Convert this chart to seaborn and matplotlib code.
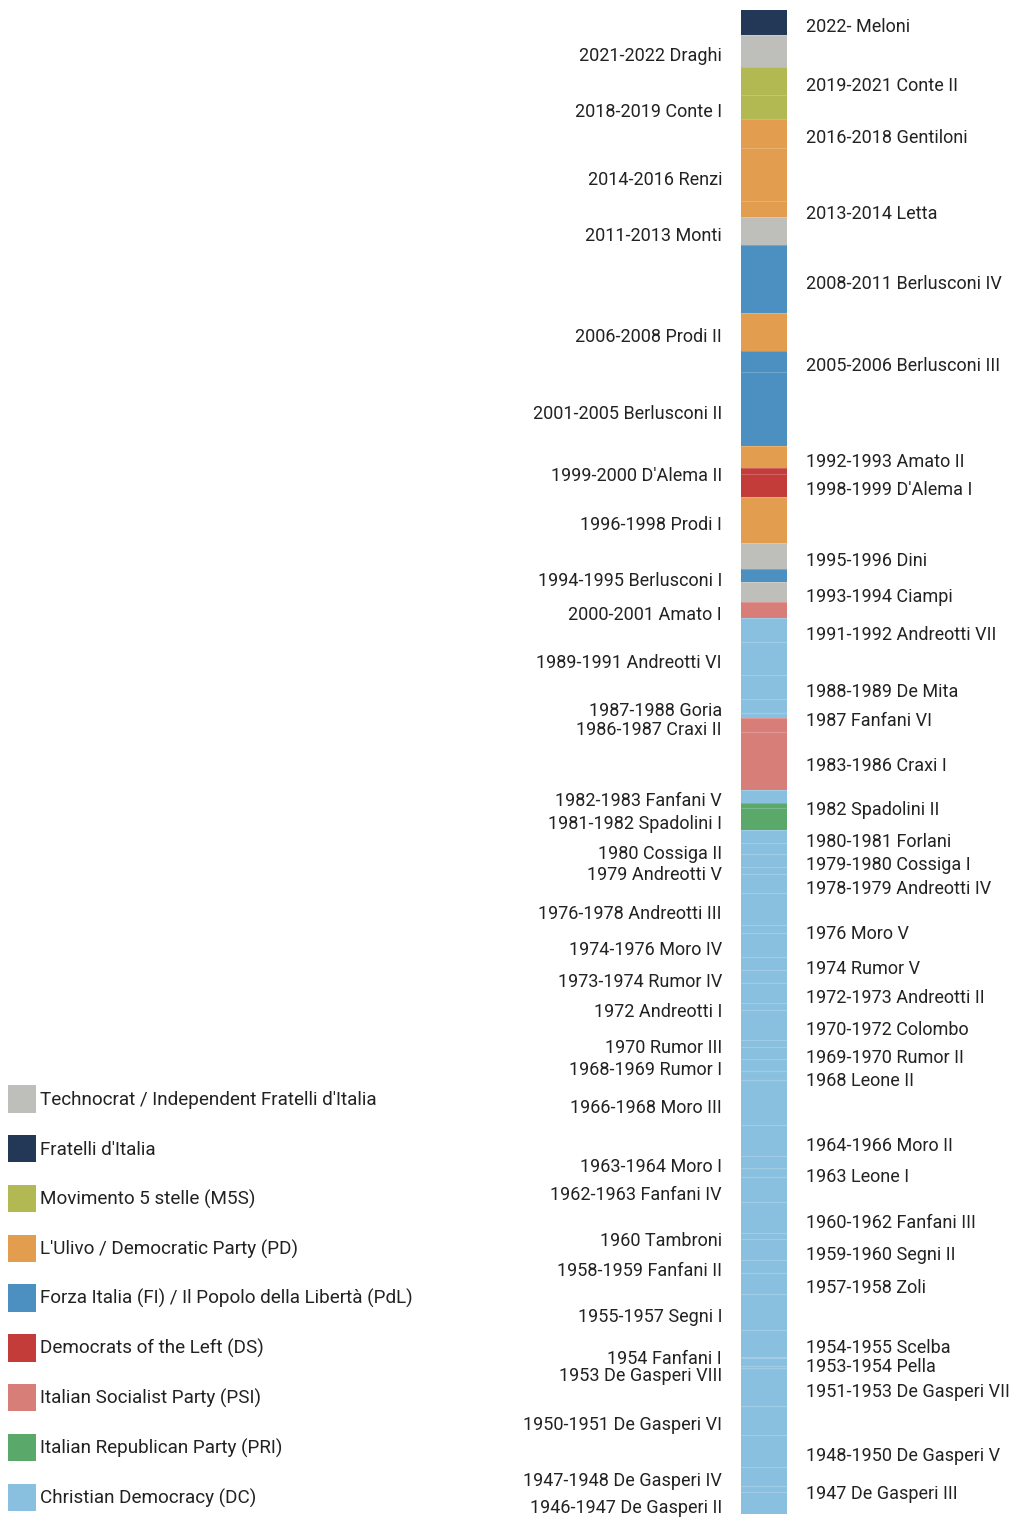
import matplotlib
matplotlib.use("Agg")
import matplotlib.pyplot as plt
from matplotlib.patches import Patch
import numpy as np
import pandas as pd
import seaborn as sns

# governments from the bottom of the bar (oldest) to the top (newest)
governments = [
    "1946-1947 De Gasperi II", "1947 De Gasperi III", "1947-1948 De Gasperi IV",
    "1948-1950 De Gasperi V", "1950-1951 De Gasperi VI", "1951-1953 De Gasperi VII",
    "1953 De Gasperi VIII", "1953-1954 Pella", "1954 Fanfani I", "1954-1955 Scelba",
    "1955-1957 Segni I", "1957-1958 Zoli", "1958-1959 Fanfani II", "1959-1960 Segni II",
    "1960 Tambroni", "1960-1962 Fanfani III", "1962-1963 Fanfani IV", "1963 Leone I",
    "1963-1964 Moro I", "1964-1966 Moro II", "1966-1968 Moro III", "1968 Leone II",
    "1968-1969 Rumor I", "1969-1970 Rumor II", "1970 Rumor III", "1970-1972 Colombo",
    "1972 Andreotti I", "1972-1973 Andreotti II", "1973-1974 Rumor IV", "1974 Rumor V",
    "1974-1976 Moro IV", "1976 Moro V", "1976-1978 Andreotti III", "1978-1979 Andreotti IV",
    "1979 Andreotti V", "1979-1980 Cossiga I", "1980 Cossiga II", "1980-1981 Forlani",
    "1981-1982 Spadolini I", "1982 Spadolini II", "1982-1983 Fanfani V", "1983-1986 Craxi I",
    "1986-1987 Craxi II", "1987 Fanfani VI", "1987-1988 Goria", "1988-1989 De Mita",
    "1989-1991 Andreotti VI", "1991-1992 Andreotti VII", "2000-2001 Amato I",
    "1993-1994 Ciampi", "1994-1995 Berlusconi I", "1995-1996 Dini", "1996-1998 Prodi I",
    "1998-1999 D'Alema I", "1999-2000 D'Alema II", "1992-1993 Amato II",
    "2001-2005 Berlusconi II", "2005-2006 Berlusconi III", "2006-2008 Prodi II",
    "2008-2011 Berlusconi IV", "2011-2013 Monti", "2013-2014 Letta", "2014-2016 Renzi",
    "2016-2018 Gentiloni", "2018-2019 Conte I", "2019-2021 Conte II", "2021-2022 Draghi",
    "2022- Meloni",
]

# days in office
days = [
    410, 118, 358, 614, 545, 721, 32, 154, 23, 511,
    683, 408, 229, 404, 123, 575, 485, 166, 231, 581,
    852, 171, 236, 234, 132, 560, 130, 376, 250, 254,
    446, 168, 590, 374, 137, 244, 197, 253, 421, 100,
    246, 1093, 259, 102, 260, 465, 629, 443, 304, 377,
    252, 486, 887, 427, 125, 412, 1412, 389, 722, 1287,
    529, 300, 1024, 536, 461, 527, 616, 470,
]

parties = (
    ["DC"] * 38 + ["PRI", "PRI", "DC", "PSI", "PSI", "DC", "DC", "DC", "DC", "DC",
                   "PSI", "TEC", "FI", "TEC", "PD", "DS", "DS", "PD", "FI", "FI",
                   "PD", "FI", "TEC", "PD", "PD", "PD", "M5S", "M5S", "TEC", "FDI"]
)

party_keys = ["TEC", "FDI", "M5S", "PD", "FI", "DS", "PSI", "PRI", "DC"]
party_names = [
    "Technocrat / Independent Fratelli d'Italia",
    "Fratelli d'Italia",
    "Movimento 5 stelle (M5S)",
    "L'Ulivo / Democratic Party (PD)",
    "Forza Italia (FI) / Il Popolo della Libertà (PdL)",
    "Democrats of the Left (DS)",
    "Italian Socialist Party (PSI)",
    "Italian Republican Party (PRI)",
    "Christian Democracy (DC)",
]
party_colors = ["#bebeba", "#233856", "#b2b852", "#e29d4e", "#4b90c1",
                "#c33c39", "#d77e79", "#5aa86a", "#8ac0df"]

sns.set_theme(style="white")
plt.rcParams["font.family"] = ["Roboto", "DejaVu Sans"]

color_of = dict(zip(party_keys, party_colors))
df = pd.DataFrame({"gov": governments, "days": days, "party": parties})
df["top"] = df["days"].cumsum()
df["bottom"] = df["top"] - df["days"]
df["mid"] = (df["top"] + df["bottom"]) / 2
df["side"] = np.where(np.arange(len(df)) % 2 == 0, "left", "right")
total = df["top"].iloc[-1]

W, H = 1016, 1524
fig = plt.figure(figsize=(W / 100, H / 100), dpi=100)
fig.patch.set_facecolor("white")
bar_px = 1503.7
ax = fig.add_axes([741 / W, 10.3 / H, 46 / W, bar_px / H])

# stacked bar: draw cumulative bars from the tallest down
for _, row in df.iloc[::-1].iterrows():
    sns.barplot(x=["all"], y=[row["top"]], color=color_of[row["party"]],
                saturation=1, width=1, linewidth=0, ax=ax)
ax.hlines(df["top"].iloc[:-1], -0.5, 0.5, colors="white", linewidth=0.8, alpha=0.2)
ax.set_xlim(-0.5, 0.5)
ax.set_ylim(0, total)
ax.axis("off")

# label positions: centre of segment, nudged apart on each side
px_per_day = bar_px / total
gap = 17 / px_per_day
for side in ["left", "right"]:
    idx = df.index[df["side"] == side]
    ys = df.loc[idx, "mid"].to_numpy(dtype=float)
    for _ in range(200):
        moved = False
        for j in range(len(ys) - 1):
            d = ys[j + 1] - ys[j]
            if d < gap:
                push = (gap - d) / 2
                ys[j] -= push
                ys[j + 1] += push
                moved = True
        if not moved:
            break
    df.loc[idx, "ylab"] = ys

for _, row in df.iterrows():
    left = row["side"] == "left"
    ax.annotate(row["gov"], xy=(-0.5 if left else 0.5, row["ylab"]),
                xytext=(-19 if left else 19, -5), textcoords="offset pixels",
                ha="right" if left else "left", va="center",
                fontsize=13, color="#222222", annotation_clip=False)

handles = [Patch(facecolor=c, edgecolor="none", label=n)
           for n, c in zip(party_names, party_colors)]
fig.legend(handles=handles, loc="lower left", bbox_to_anchor=(8 / W, 12.9 / H),
           frameon=False, fontsize=13.6, handlelength=1.48, handleheight=1.85,
           handletextpad=0.2, labelspacing=1.19, borderpad=0, borderaxespad=0,
           labelcolor="#222222")

fig.savefig("out.png", dpi=100, facecolor="white")
